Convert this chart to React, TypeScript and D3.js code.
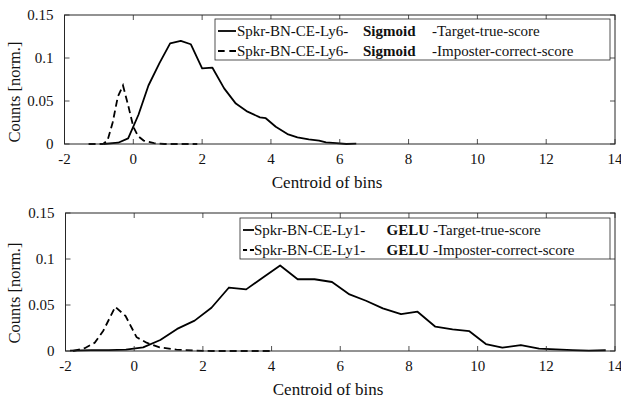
import React from "react";
import * as d3 from "d3";

// ---- data ----
const xTicks = [-2, 0, 2, 4, 6, 8, 10, 12, 14];
const yTicks = [0, 0.05, 0.1, 0.15];
const yTickLabels = ["0", "0.05", "0.1", "0.15"];

const topTargetX = [-0.86, -0.44, -0.15, 0.15, 0.44, 0.76, 1.07, 1.38, 1.67, 2.0, 2.3, 2.64, 2.98, 3.32, 3.68, 3.85, 4.14, 4.48, 4.77, 5.1, 5.4, 5.6, 5.9, 6.19, 6.48];
const topTargetY = [0, 0.0015, 0.0066, 0.034, 0.068, 0.094, 0.117, 0.12, 0.116, 0.088, 0.0887, 0.0647, 0.047, 0.0376, 0.031, 0.030, 0.020, 0.0116, 0.0078, 0.0054, 0.004, 0.002, 0.001, 0, 0.0005];
const topImpX = [-1.3, -0.88, -0.75, -0.6, -0.45, -0.3, -0.15, 0.0, 0.14, 0.3, 0.6, 0.9, 1.2, 1.5, 1.86];
const topImpY = [0, 0, 0.004, 0.025, 0.055, 0.068, 0.045, 0.02, 0.009, 0.004, 0.001, 0, 0, 0, 0];

const botTargetX = [-1.87, -1.24, -0.74, -0.24, 0.26, 0.76, 1.25, 1.76, 2.25, 2.76, 3.26, 3.75, 4.25, 4.76, 5.25, 5.76, 6.27, 6.75, 7.24, 7.77, 8.25, 8.77, 9.27, 9.76, 10.24, 10.72, 11.26, 11.79, 12.28, 12.76, 13.24, 13.73];
const botTargetY = [0.0005, 0.001, 0.001, 0.0015, 0.004, 0.012, 0.024, 0.033, 0.047, 0.069, 0.067, 0.080, 0.093, 0.078, 0.078, 0.075, 0.0615, 0.0546, 0.0463, 0.040, 0.0427, 0.0264, 0.0235, 0.0215, 0.0076, 0.0036, 0.0065, 0.0025, 0.0018, 0.001, 0.0003, 0.0008];
const botImpX = [-1.78, -1.44, -1.15, -0.9, -0.55, -0.25, 0.07, 0.36, 0.74, 1.23, 1.75, 2.25, 2.75, 3.25, 3.75, 4.0];
const botImpY = [0, 0.003, 0.009, 0.022, 0.048, 0.038, 0.015, 0.009, 0.004, 0.0015, 0.0005, 0, 0, 0, 0, 0];

const topLegend = { prefix: "Spkr-BN-CE-Ly6-", act: "Sigmoid", s1: "-Target-true-score", s2: "-Imposter-correct-score" };
const botLegend = { prefix: "Spkr-BN-CE-Ly1-", act: "GELU", s1: "-Target-true-score", s2: "-Imposter-correct-score" };

const FONT = "'Liberation Serif', 'Times New Roman', Times, serif";
const AX = "#262626";

type PanelProps = {
  left: number; right: number; top: number; bottom: number;
  tx: number[]; ty: number[]; ix: number[]; iy: number[];
  legend: typeof topLegend;
  lg: { x0: number; x1: number; y0: number; y1: number; r1: number; r2: number; ls0: number; ls1: number; tx: number; ax: number; sx: number; fs: number };
  ylabY: number;
  xlabX: number;
};

function Panel(p: PanelProps) {
  const x = d3.scaleLinear().domain([-2, 14]).range([p.left, p.right]);
  const y = d3.scaleLinear().domain([0, 0.15]).range([p.bottom, p.top]);
  const line = d3.line<[number, number]>().x(d => x(d[0])).y(d => y(d[1]));
  const tData = p.tx.map((v, i) => [v, p.ty[i]] as [number, number]);
  const iData = p.ix.map((v, i) => [v, p.iy[i]] as [number, number]);
  const tl = 5;
  return (
    <g>
      <rect x={p.left} y={p.top} width={p.right - p.left} height={p.bottom - p.top} fill="white" />
      <path d={line(iData) || ""} fill="none" stroke="black" strokeWidth={1.8} strokeDasharray="7 4" />
      <path d={line(tData) || ""} fill="none" stroke="black" strokeWidth={1.8} strokeLinejoin="round" />
      {xTicks.map(t => (
        <g key={"xt" + t}>
          <line x1={x(t)} x2={x(t)} y1={p.bottom} y2={p.bottom - tl} stroke={AX} strokeWidth={0.8} />
          <line x1={x(t)} x2={x(t)} y1={p.top} y2={p.top + tl} stroke={AX} strokeWidth={0.8} />
          <text x={x(t)} y={p.bottom + 19.5} textAnchor="middle" fontFamily={FONT} fontSize={15} fill="#111">{t}</text>
        </g>
      ))}
      {yTicks.map((t, i) => (
        <g key={"yt" + t}>
          <line x1={p.left} x2={p.left + tl} y1={y(t)} y2={y(t)} stroke={AX} strokeWidth={0.8} />
          <line x1={p.right} x2={p.right - tl} y1={y(t)} y2={y(t)} stroke={AX} strokeWidth={0.8} />
          <text x={p.left - 11} y={y(t) + 5} textAnchor="end" fontFamily={FONT} fontSize={15} fill="#111">{yTickLabels[i]}</text>
        </g>
      ))}
      <rect x={p.left} y={p.top} width={p.right - p.left} height={p.bottom - p.top} fill="none" stroke={AX} strokeWidth={1} />
      <text x={p.xlabX} y={p.bottom + 44} textAnchor="middle" fontFamily={FONT} fontSize={17} fill="#111">Centroid of bins</text>
      <text transform={`translate(20,${p.ylabY}) rotate(-90)`} textAnchor="middle" fontFamily={FONT} fontSize={16.5} fill="#111">Counts [norm.]</text>
      <rect x={p.lg.x0} y={p.lg.y0} width={p.lg.x1 - p.lg.x0} height={p.lg.y1 - p.lg.y0} fill="white" stroke={AX} strokeWidth={0.8} />
      <line x1={p.lg.ls0} x2={p.lg.ls1} y1={p.lg.r1} y2={p.lg.r1} stroke="black" strokeWidth={1.8} />
      <line x1={p.lg.ls0} x2={p.lg.ls1} y1={p.lg.r2} y2={p.lg.r2} stroke="black" strokeWidth={1.8} strokeDasharray={`${(p.lg.ls1 - p.lg.ls0) * 0.37} ${(p.lg.ls1 - p.lg.ls0) * 0.26}`} />
      {[p.lg.r1, p.lg.r2].map((ry, i) => (
        <g key={"lr" + i} fontFamily={FONT} fontSize={p.lg.fs} fill="#111">
          <text x={p.lg.tx} y={ry + 5}>{p.legend.prefix}</text>
          <text x={p.lg.ax} y={ry + 5} fontWeight="bold">{p.legend.act}</text>
          <text x={p.lg.sx} y={ry + 5}>{i === 0 ? p.legend.s1 : p.legend.s2}</text>
        </g>
      ))}
    </g>
  );
}

export default function App() {
  return (
    <svg width={621} height={399} style={{ position: "absolute", left: 0, top: 0, background: "white" }}>
      <rect width={621} height={399} fill="white" />
      <Panel left={64.5} right={615} top={15} bottom={144}
        tx={topTargetX} ty={topTargetY} ix={topImpX} iy={topImpY}
        legend={topLegend}
        lg={{ x0: 215, x1: 610, y0: 19, y1: 60, r1: 31, r2: 51, ls0: 218, ls1: 236, tx: 237, ax: 363, sx: 432, fs: 15 }}
        ylabY={92} xlabX={327} />
      <Panel left={65.5} right={615} top={213} bottom={351}
        tx={botTargetX} ty={botTargetY} ix={botImpX} iy={botImpY}
        legend={botLegend}
        lg={{ x0: 240, x1: 610, y0: 218, y1: 259, r1: 230, r2: 250, ls0: 243, ls1: 254, tx: 254, ax: 386.5, sx: 433, fs: 15 }}
        ylabY={293} xlabX={328} />
    </svg>
  );
}
